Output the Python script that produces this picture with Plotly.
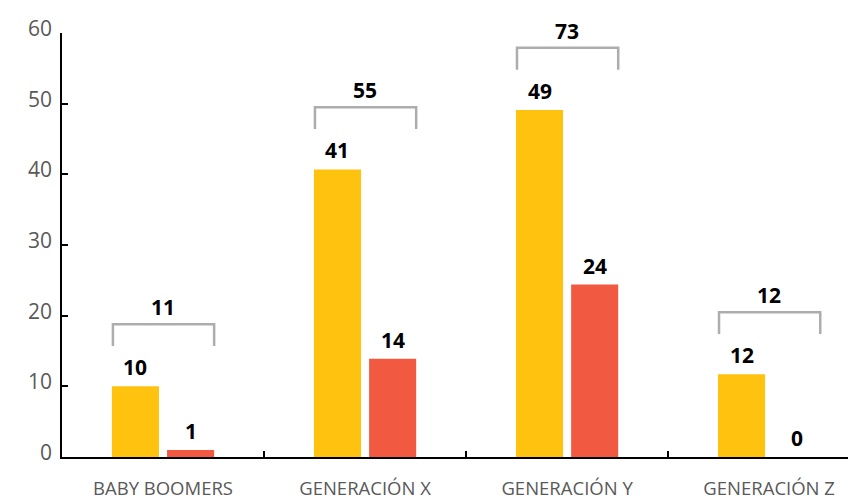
import plotly.graph_objects as go

categories = ["BABY BOOMERS", "GENERACIÓN X", "GENERACIÓN Y", "GENERACIÓN Z"]
serie_a = [10.0, 40.7, 49.1, 11.7]
serie_b = [1.0, 13.9, 24.4, 0.0]
label_a = [10, 41, 49, 12]
label_b = [1, 14, 24, 0]
totals = [11, 55, 73, 12]
y_ticks = [0, 10, 20, 30, 40, 50, 60]

YELLOW = "#FFC20E"
RED = "#F15A40"
GRAY = "#ADADAD"
TXT = "#595959"

bar_w = 0.233
off_a = -0.253
off_b = 0.02
xs = list(range(len(categories)))

fig = go.Figure()
fig.add_trace(go.Bar(x=xs, y=serie_a, width=bar_w, offset=off_a, marker=dict(color=YELLOW, line=dict(width=0)),
                     showlegend=False, hoverinfo="skip"))
fig.add_trace(go.Bar(x=xs, y=serie_b, width=bar_w, offset=off_b, marker=dict(color=RED, line=dict(width=0)),
                     showlegend=False, hoverinfo="skip"))

# brackets
bx, by = [], []
tops = []
for i, (a, b) in enumerate(zip(serie_a, serie_b)):
    top = max(a, b) + 8.8
    tops.append(top)
    left = i + off_a + 0.005
    right = i + off_b + bar_w
    bx += [left, left, right, right, None]
    by += [top - 3.1, top, top, top - 3.1, None]
fig.add_trace(go.Scatter(x=bx, y=by, mode="lines", line=dict(color=GRAY, width=2.5),
                         showlegend=False, hoverinfo="skip", cliponaxis=False))

NUMFONT = dict(family="Open Sans", size=21, color="black")
annos = []
for i in xs:
    annos.append(dict(x=i + off_a + bar_w / 2, y=serie_a[i], xref="x", yref="y", text=f"<b>{label_a[i]}</b>",
                      showarrow=False, yanchor="middle", yshift=19, font=NUMFONT))
    annos.append(dict(x=i + off_b + bar_w / 2, y=serie_b[i], xref="x", yref="y", text=f"<b>{label_b[i]}</b>",
                      showarrow=False, yanchor="middle", yshift=19, font=NUMFONT))
    annos.append(dict(x=i, y=tops[i], xref="x", yref="y", text=f"<b>{totals[i]}</b>",
                      showarrow=False, yanchor="middle", yshift=17, font=NUMFONT))
# y tick labels (sit slightly above their tick marks, as in the reference)
for v in y_ticks:
    annos.append(dict(x=0, y=v, xref="paper", yref="y", text=str(v), showarrow=False,
                      xanchor="right", yanchor="middle", xshift=-8, yshift=5,
                      font=dict(family="Open Sans", size=21, color=TXT)))

# the page places the figure 8px from the window's top-left corner
fig.update_layout(
    width=848, height=491,
    margin=dict(l=54, r=0, t=25, b=42),
    paper_bgcolor="white", plot_bgcolor="white",
    annotations=annos,
    font=dict(family="Open Sans", color=TXT),
)
fig.update_xaxes(
    range=[-0.5, 3.43],
    tickmode="array", tickvals=xs, ticktext=categories,
    showgrid=False, zeroline=False, automargin=False,
    showline=True, linecolor="black", linewidth=2,
    ticks="", tickfont=dict(family="Open Sans", size=18.5, color=TXT),
    ticklabelstandoff=14,
)
fig.update_xaxes(minor=dict(tickmode="array", tickvals=[0.5, 1.5, 2.5], ticks="inside", ticklen=6,
                            tickwidth=2, tickcolor="black", showgrid=False))
fig.update_yaxes(
    range=[0, 60],
    tickmode="array", tickvals=y_ticks, showticklabels=False,
    showgrid=False, zeroline=False, automargin=False,
    showline=True, linecolor="black", linewidth=2,
    ticks="inside", ticklen=6, tickwidth=2, tickcolor="black",
)

fig.write_html("out.html")
